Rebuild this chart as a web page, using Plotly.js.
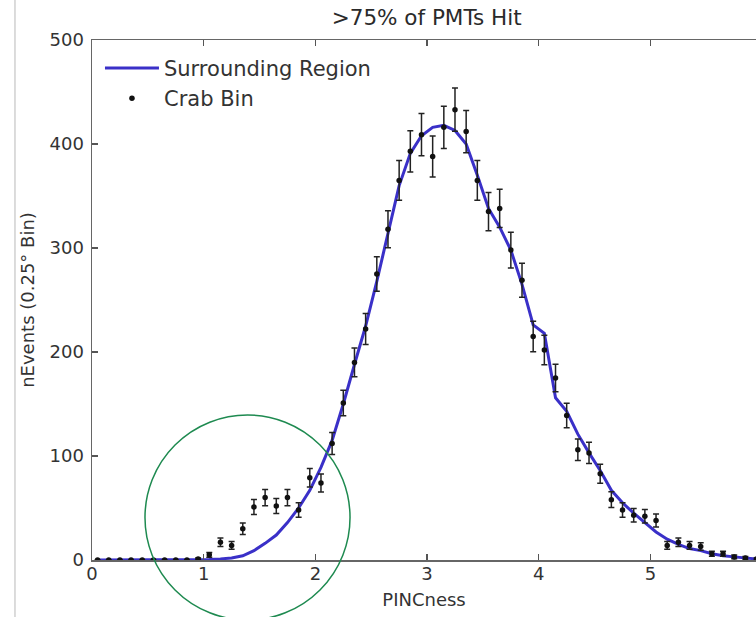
<!DOCTYPE html>
<html>
<head>
<meta charset="utf-8">
<script src="https://cdn.plot.ly/plotly-3.0.1.min.js"></script>
<style>html,body{margin:0;padding:0;background:#fff;}#chart{width:756px;height:617px;}</style>
</head>
<body>
<div id="chart"></div>
<script>
// PINCness bin centres (0.1 wide bins)
var binCentres = [0.05,0.15,0.25,0.35,0.45,0.55,0.65,0.75,0.85,0.95,
                  1.05,1.15,1.25,1.35,1.45,1.55,1.65,1.75,1.85,1.95,
                  2.05,2.15,2.25,2.35,2.45,2.55,2.65,2.75,2.85,2.95,
                  3.05,3.15,3.25,3.35,3.45,3.55,3.65,3.75,3.85,3.95,
                  4.05,4.15,4.25,4.35,4.45,4.55,4.65,4.75,4.85,4.95,
                  5.05,5.15,5.25,5.35,5.45,5.55,5.65,5.75,5.85,5.95];
// Crab bin event counts
var crabCounts = [0,0,0,0,0,0,0,0,0,1,
                  5,17,14,30,51,60,52,60,48,79,
                  74,112,151,190,222,275,318,365,393,409,
                  388,416,433,412,365,335,338,298,269,215,
                  202,175,139,106,103,83,58,48,43,42,
                  38,14,17,14,13,6,6,3,2,1];
// Surrounding region (scaled) counts
var surroundCounts = [0,0,0,0,0,0,0,0,0,0,
                      0.5,1,2,4,9,16,24,36,50,67,
                      89,115,150,188,225,268,314,360,391,408,
                      416,418,413,400,370,338,320,298,265,226,
                      218,156,143,121,103,86,67,55,45,36,
                      27,20,15,11,9,6,4,3,2,1];
var xTicks = [0,1,2,3,4,5];
var yTicks = [0,100,200,300,400,500];

var traces = [
  {
    x: binCentres, y: surroundCounts, type: 'scatter', mode: 'lines',
    name: 'Surrounding Region',
    line: {color: '#3a30c8', width: 3}
  },
  {
    x: binCentres, y: crabCounts, type: 'scatter', mode: 'markers',
    name: 'Crab Bin',
    marker: {color: '#111', size: 5.5},
    error_y: {type: 'sqrt', visible: true, color: '#222', thickness: 1.5, width: 3}
  }
];

var axisCommon = {
  ticks: 'inside', ticklen: 6, tickwidth: 1.2, tickcolor: '#555',
  showline: true, linecolor: '#666', linewidth: 1.5,
  showgrid: false, zeroline: false,
  tickfont: {size: 18, color: '#333'}
};

var layout = {
  width: 756, height: 617,
  margin: {l: 92, r: 0, t: 40, b: 57, pad: 0},
  paper_bgcolor: '#fff', plot_bgcolor: '#fff',
  font: {family: 'DejaVu Sans', size: 18, color: '#333'},
  title: {text: '>75% of PMTs Hit', font: {size: 21.5, color: '#2a2a2a'},
          xref: 'paper', x: 0.504, xanchor: 'center',
          yref: 'container', y: 0.971, yanchor: 'middle'},
  xaxis: Object.assign({}, axisCommon, {
    range: [0, 5.945], tickvals: xTicks, mirror: 'ticks',
    ticklabelstandoff: -3,
    title: {text: 'PINCness', standoff: 10, font: {size: 18, color: '#333'}}
  }),
  yaxis: Object.assign({}, axisCommon, {
    range: [0, 500], tickvals: yTicks, mirror: false,
    ticklabelstandoff: 3,
    title: {text: 'nEvents (0.25° Bin)', standoff: 10, font: {size: 18, color: '#333'}}
  }),
  showlegend: true,
  legend: {x: 0.012, y: 0.985, xanchor: 'left', yanchor: 'top',
           bgcolor: 'rgba(0,0,0,0)', font: {size: 21, color: '#333'},
           itemwidth: 54, tracegroupgap: 0},
  shapes: [
    {type: 'circle', xref: 'paper', yref: 'paper',
     x0: 0.0798, x1: 0.3886, y0: -0.1154, y1: 0.2788,
     line: {color: '#1e8a50', width: 1.5}},
    {type: 'line', xref: 'paper', yref: 'paper',
     x0: -0.116, x1: -0.116, y0: -0.11, y1: 1.08,
     line: {color: '#d0d0d0', width: 1.5}}
  ]
};

Plotly.newPlot('chart', traces, layout, {displayModeBar: false, staticPlot: true});
</script>
</body>
</html>
